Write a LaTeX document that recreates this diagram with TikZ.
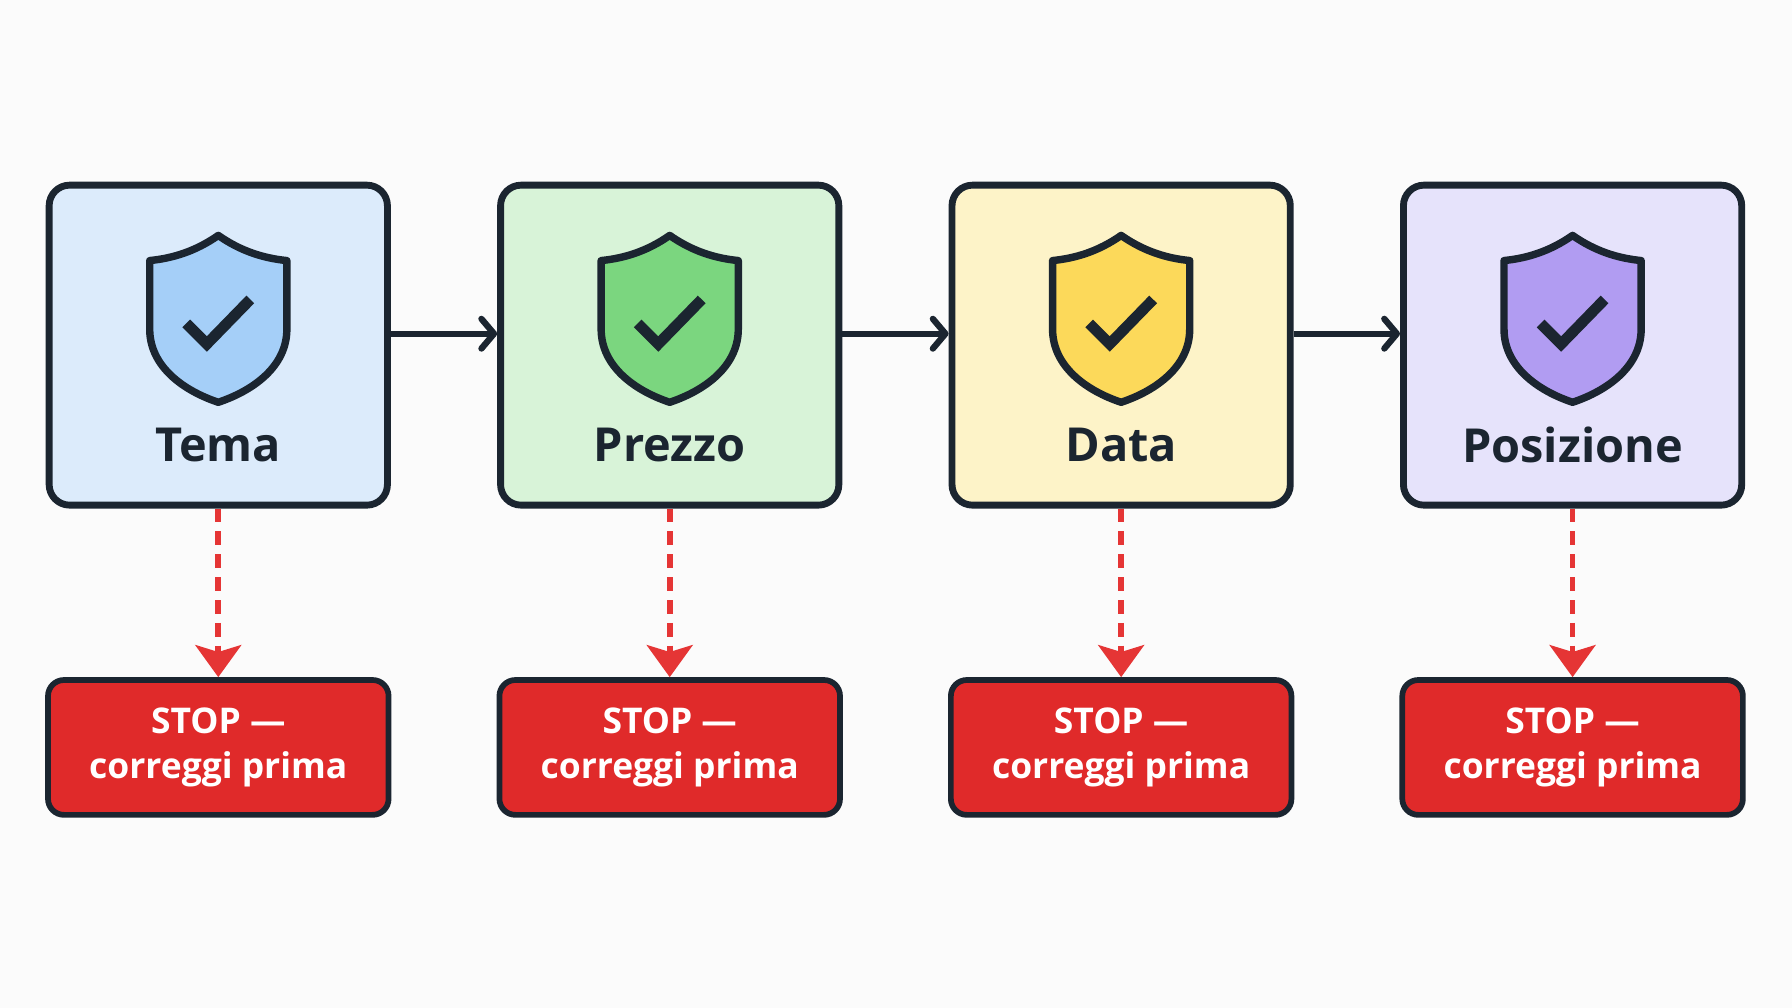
\documentclass[tikz,border=0pt]{standalone}
\usepackage{fontspec}
\setmainfont{Open Sans}
\usetikzlibrary{arrows.meta}
\definecolor{ink}{HTML}{1B2530}
\definecolor{stopred}{HTML}{E02A2A}
\definecolor{dashred}{HTML}{E53535}
\definecolor{fA}{HTML}{DCEBFB}\definecolor{sA}{HTML}{A5CFF8}
\definecolor{fB}{HTML}{D8F3D8}\definecolor{sB}{HTML}{7BD67F}
\definecolor{fC}{HTML}{FDF3C8}\definecolor{sC}{HTML}{FCD95A}
\definecolor{fD}{HTML}{E6E3FB}\definecolor{sD}{HTML}{B19CF2}
\tikzset{
 stepbox/.style={draw=ink,line width=6pt,rounded corners=18pt,minimum width=296pt,minimum height=280pt},
 stop/.style={draw=ink,line width=5pt,rounded corners=14pt,fill=stopred,minimum width=298pt,minimum height=118pt,text=white,align=center,font=\fontsize{31}{39}\selectfont\bfseries},
 lbl/.style={text=ink,font=\fontsize{41}{41}\selectfont\bfseries},
 flow/.style={draw=ink,line width=5.5pt,-{Straight Barb[length=11pt,width=26pt,line width=5.5pt,round]}},
 fail/.style={draw=dashred,line width=5pt,dash pattern=on 12pt off 8pt,-{Stealth[length=28pt,width=40pt,inset=6pt]}},
}
\newcommand\myshield[2]{%
 \begin{scope}[shift={(#1,206)}]
 \draw[ink,line width=6.5pt,fill=#2,line join=round] (0,0) .. controls (-20,14) and (-40,20) .. (-60,22) -- (-60,82) .. controls (-60,115) and (-30,136) .. (0,146) .. controls (30,136) and (60,115) .. (60,82) -- (60,22) .. controls (40,20) and (20,14) .. (0,0) -- cycle;
 \draw[ink,line width=9.5pt] (-28,77) -- (-10,95) -- (28,56);
 \end{scope}}
\begin{document}
\begin{tikzpicture}[x=1pt,y=-1pt]
\useasboundingbox (0,0) rectangle (1568,882);
\fill[white!97!gray] (0,0) rectangle (1568,882);
\foreach \i/\x/\f/\s/\t in {1/191/fA/sA/Tema,2/586/fB/sB/Prezzo,3/981/fC/sC/Data,4/1376/fD/sD/Posizione}{
 \node[stepbox,fill=\f] (b\i) at (\x,302) {};
 \myshield{\x}{\s}
 \node[lbl] (l\i) at (\x,389) {\t};
 \node[stop] (s\i) at (\x,654) {STOP —\\correggi prima};
 \draw[fail] (b\i.south) -- (s\i.north);
}
\foreach \a/\b in {1/2,2/3,3/4}{
 \draw[flow] (b\a.east |- 0,292) -- (b\b.west |- 0,292);
}
\end{tikzpicture}
\end{document}
